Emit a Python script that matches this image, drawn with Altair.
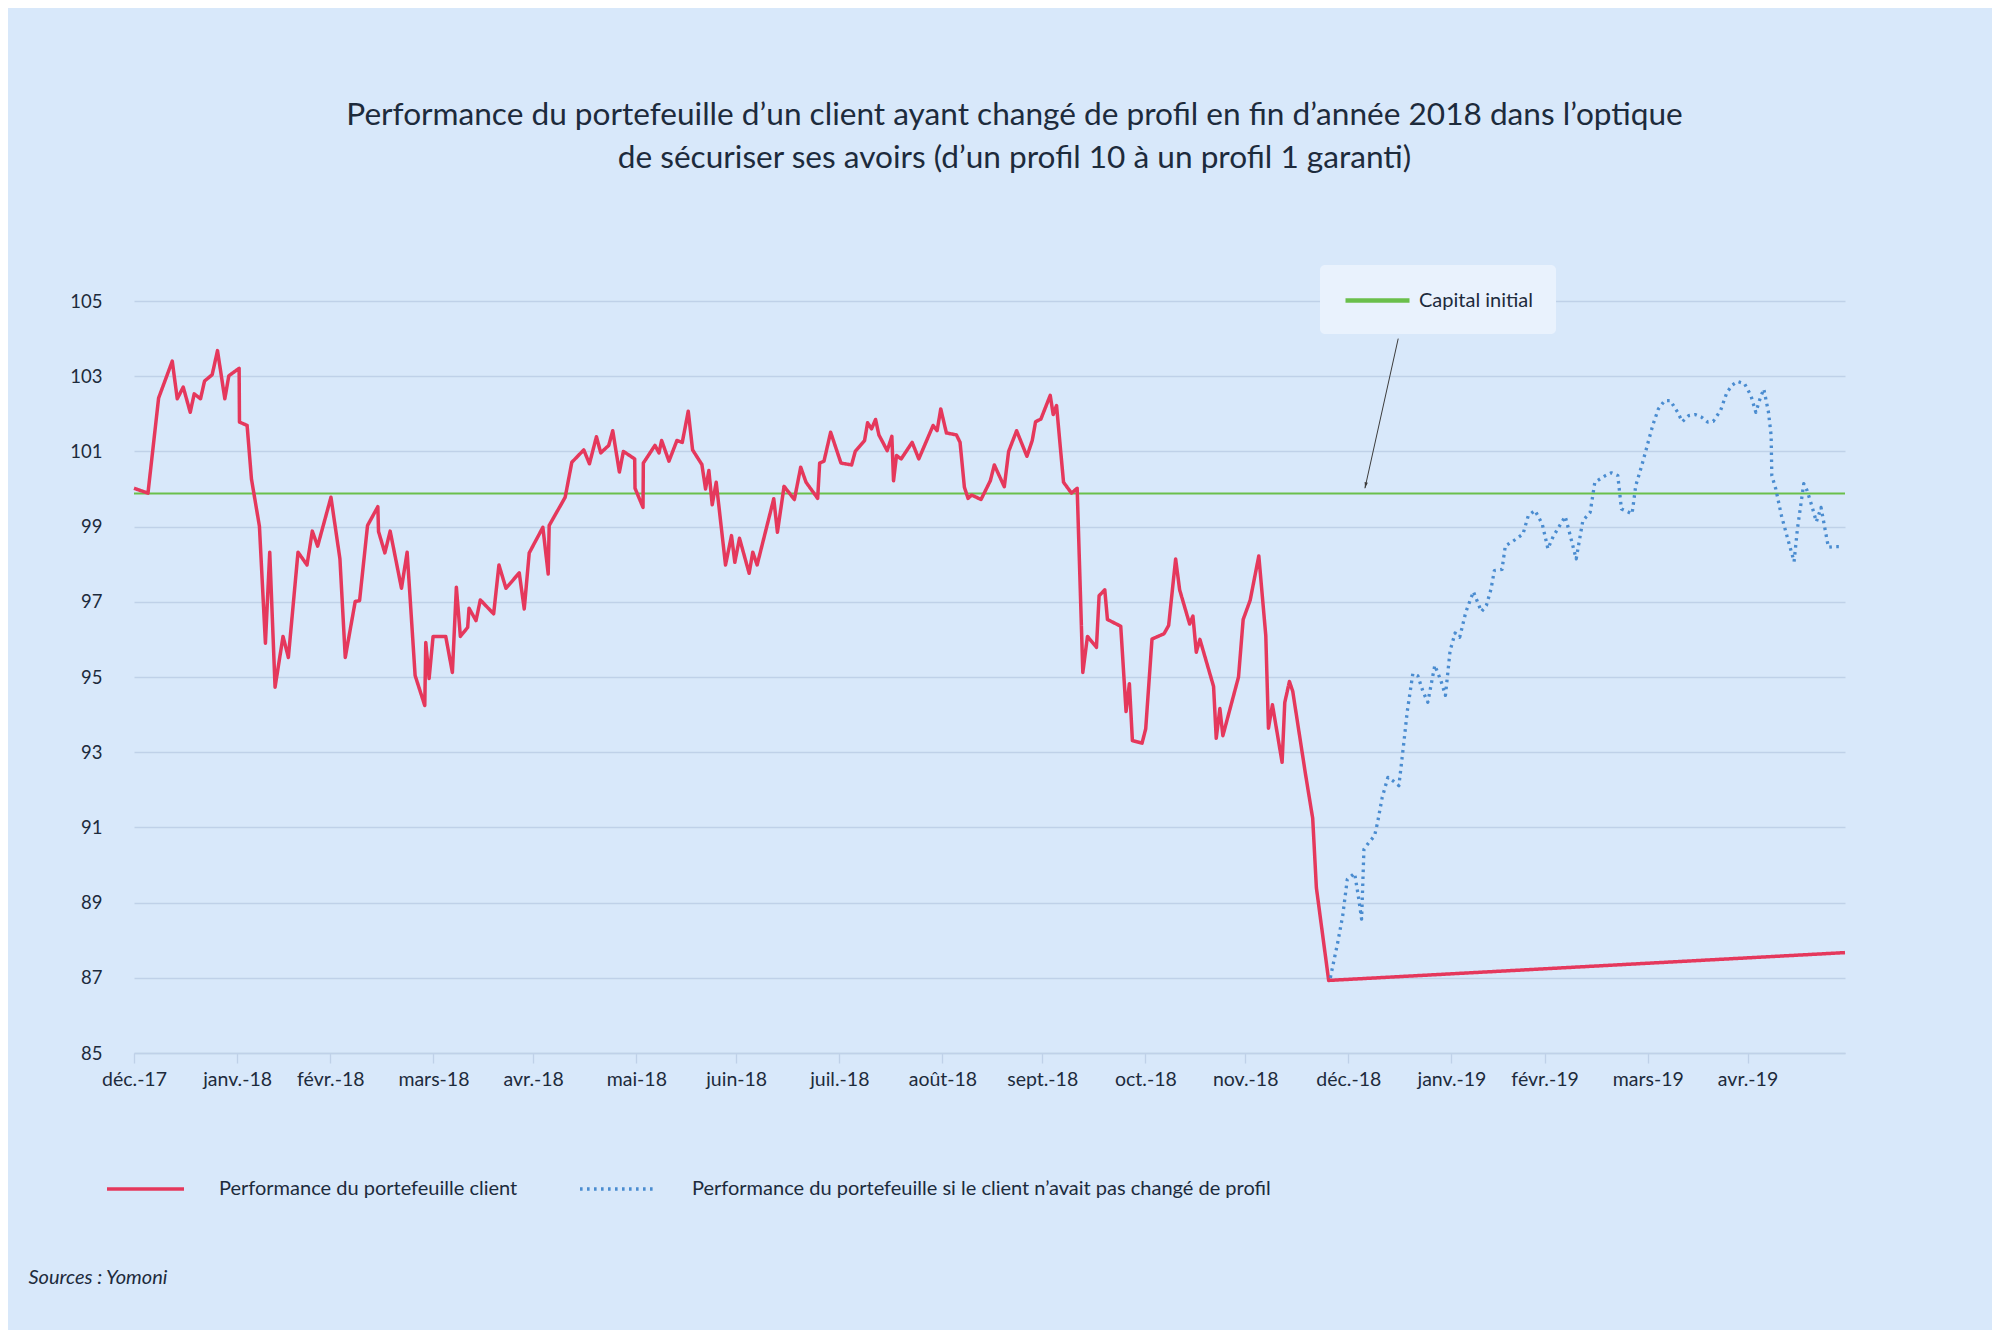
import altair as alt
import pandas as pd

# ---------------- texts ----------------
TITLE = [
    "Performance du portefeuille d’un client ayant changé de profil en fin d’année 2018 dans l’optique",
    "de sécuriser ses avoirs (d’un profil 10 à un profil 1 garanti)",
]
SERIES = [
    "Performance du portefeuille client",
    "Performance du portefeuille si le client n’avait pas changé de profil",
]
CAPITAL_LABEL = "Capital initial"
SOURCE = "Sources : Yomoni"

# ---------------- axes ----------------
BASE_DATE = "2017-12-31"
TICK_DATES = ["2017-12-31", "2018-01-31", "2018-02-28", "2018-03-31", "2018-04-30",
              "2018-05-31", "2018-06-30", "2018-07-31", "2018-08-31", "2018-09-30",
              "2018-10-31", "2018-11-30", "2018-12-31", "2019-01-31", "2019-02-28",
              "2019-03-31", "2019-04-30"]
TICK_LABELS = ["déc.-17", "janv.-18", "févr.-18", "mars-18", "avr.-18", "mai-18",
               "juin-18", "juil.-18", "août-18", "sept.-18", "oct.-18", "nov.-18",
               "déc.-18", "janv.-19", "févr.-19", "mars-19", "avr.-19"]
END_DAY = 514.3
Y_TICKS = [85, 87, 89, 91, 93, 95, 97, 99, 101, 103, 105]

CAPITAL = 99.88

# ---------------- series (days since 31/12/2017, value) ----------------
CLIENT_DAYS = [
    0.0, 4.2, 7.4, 11.5, 13.0, 14.8, 16.9, 18.1, 20.0, 21.2, 23.5, 25.1, 27.3, 28.5,
    31.6, 31.7, 34.0, 35.3, 37.7, 39.5, 40.8, 42.4, 44.8, 46.4, 49.3, 52.0, 53.6, 55.2,
    59.2, 61.9, 63.5, 66.5, 67.8, 70.2, 73.3, 73.5, 75.4, 77.0, 80.4, 82.1, 84.5, 87.4,
    87.7, 88.7, 89.9, 93.7, 95.7, 96.9, 98.1, 100.3, 100.7, 102.8, 104.1, 108.1, 109.7,
    111.8, 115.8, 117.3, 118.8, 122.9, 124.5, 124.8, 129.6, 131.6, 135.2, 136.9, 139.0,
    140.3, 142.7, 143.9, 145.9, 147.1, 150.5, 150.6, 153.0, 153.1, 156.6, 157.8, 158.6,
    160.8, 163.2, 164.8, 166.6, 167.9, 170.7, 171.8, 172.8, 173.8, 175.0, 177.8, 179.6,
    180.6, 182.0, 184.9, 186.0, 187.3, 192.3, 193.4, 195.4, 198.5, 200.4, 202.0, 205.5,
    206.1, 207.4, 209.4, 212.5, 215.7, 216.8, 219.6, 220.5, 221.7, 222.9, 223.9, 226.4,
    227.8, 228.3, 229.2, 230.6, 233.9, 235.9, 240.2, 241.4, 242.5, 244.2, 247.2, 248.3,
    249.6, 250.7, 251.8, 254.6, 257.4, 258.6, 261.6, 262.9, 265.3, 268.4, 270.0, 271.0,
    272.6, 275.4, 276.3, 277.3, 279.4, 281.8, 283.5, 285.2, 286.6, 289.3, 290.1, 291.8,
    292.6, 296.6, 298.2, 299.2, 300.1, 303.0, 304.1, 306.0, 309.6, 311.0, 313.1, 314.3,
    317.3, 318.3, 319.3, 320.4, 324.5, 325.3, 326.4, 327.3, 332.0, 333.4, 335.5, 338.1,
    340.2, 341.0, 342.2, 345.1, 345.9, 347.3, 348.3, 352.2, 354.3, 355.4, 359.1, 514.3,
]
CLIENT_VALUES = [
    100.02, 99.89, 102.42, 103.40, 102.40, 102.71, 102.04, 102.53, 102.40, 102.87, 103.04,
    103.68, 102.40, 103.01, 103.21, 101.78, 101.69, 100.27, 99.01, 95.90, 98.32, 94.73,
    96.08, 95.52, 98.32, 97.98, 98.88, 98.48, 99.78, 98.14, 95.52, 97.01, 97.03, 99.03,
    99.53, 98.87, 98.30, 98.88, 97.36, 98.32, 95.04, 94.24, 95.92, 94.96, 96.08, 96.08,
    95.12, 97.39, 96.08, 96.32, 96.83, 96.50, 97.05, 96.68, 97.98, 97.36, 97.77, 96.81,
    98.30, 98.98, 97.74, 99.03, 99.78, 100.71, 101.04, 100.67, 101.39, 100.96, 101.16,
    101.55, 100.45, 101.00, 100.80, 100.02, 99.51, 100.69, 101.16, 100.96, 101.29, 100.74,
    101.29, 101.24, 102.07, 101.04, 100.65, 100.00, 100.49, 99.58, 100.18, 97.98, 98.76,
    98.05, 98.69, 97.76, 98.32, 97.98, 99.74, 98.85, 100.07, 99.72, 100.58, 100.18, 99.75,
    100.69, 100.74, 101.51, 100.69, 100.64, 101.00, 101.29, 101.76, 101.60, 101.85, 101.44,
    101.02, 101.40, 100.22, 100.89, 100.80, 101.24, 100.80, 101.69, 101.55, 102.13, 101.49,
    101.44, 101.24, 100.05, 99.75, 99.84, 99.72, 100.22, 100.64, 100.06, 101.00, 101.55,
    100.87, 101.29, 101.79, 101.86, 102.49, 101.98, 102.22, 100.18, 99.89, 100.02, 95.12,
    96.08, 95.79, 97.16, 97.32, 96.53, 96.35, 94.08, 94.82, 93.31, 93.24, 93.62, 96.01,
    96.15, 96.37, 98.14, 97.32, 96.41, 96.62, 95.66, 96.00, 94.75, 93.37, 94.16, 93.44,
    95.00, 96.53, 97.04, 98.22, 96.10, 93.64, 94.26, 92.73, 94.32, 94.88, 94.62, 92.38,
    91.24, 89.40, 86.93, 87.67,
]
ALT_DAYS = [
    359.6, 361.8, 363.3, 364.7, 366.9, 368.0, 369.0, 369.7, 371.2, 372.9, 373.8, 375.2,
    376.9, 378.4, 380.2, 381.6, 382.7, 384.4, 385.9, 387.5, 388.9, 391.0, 392.8, 394.2,
    395.6, 397.1, 398.5, 400.3, 402.6, 405.0, 406.5, 407.9, 408.9, 411.2, 412.2, 414.3,
    417.5, 419.1, 421.1, 423.3, 425.0, 426.6, 430.2, 431.6, 433.5, 435.5, 437.7, 439.1,
    442.4, 444.1, 446.0, 447.1, 450.3, 451.4, 453.2, 454.6, 456.5, 458.2, 460.1, 461.8,
    464.0, 465.4, 467.3, 469.3, 471.2, 473.0, 474.7, 476.9, 478.8, 480.5, 482.0, 484.1,
    486.0, 487.5, 488.9, 489.9, 491.3, 492.1, 492.3, 493.5, 495.2, 497.1, 499.0, 500.0,
    501.9, 502.9, 504.3, 505.7, 507.1, 509.3, 511.5, 513.6,
]
ALT_VALUES = [
    87.00, 87.93, 88.64, 89.62, 89.78, 89.18, 88.56, 90.42, 90.60, 90.78, 91.13, 91.80,
    92.33, 92.24, 92.11, 93.18, 94.07, 95.09, 95.03, 94.60, 94.33, 95.31, 94.91, 94.51,
    95.70, 96.17, 96.06, 96.72, 97.27, 96.74, 96.90, 97.34, 97.83, 97.86, 98.49, 98.60,
    98.80, 99.29, 99.43, 99.07, 98.41, 98.74, 99.27, 98.80, 98.14, 99.16, 99.38, 100.18,
    100.36, 100.43, 100.36, 99.47, 99.34, 100.09, 100.62, 101.07, 101.69, 102.13, 102.35,
    102.35, 102.04, 101.79, 101.95, 101.98, 101.91, 101.78, 101.80, 102.09, 102.57,
    102.77, 102.86, 102.80, 102.49, 102.04, 102.44, 102.66, 102.04, 101.42, 100.36,
    100.00, 99.29, 98.67, 98.07, 98.94, 100.14, 99.96, 99.56, 99.13, 99.51, 98.45,
    98.47, 98.47,
]

# annotation arrow (data space): from the label box down to the capital line
ARROW_DAYS = [380.0, 370.0]
ARROW_VALUES = [104.0, 100.02]

# ---------------- style ----------------
FONT = "Lato"
BG = "#d8e8fa"
BOX = "#e9f2fd"
GRID = "#bfd1e8"
TEXT = "#1d2b3c"
RED = "#e5385c"
BLUE = "#4a8cd0"
GREEN = "#6abf4b"
ARROWC = "#3c3c3c"

# ---------------- data frames ----------------
base = pd.Timestamp(BASE_DATE)
tick_days = [int((pd.Timestamp(d) - base).days) for d in TICK_DATES]
label_expr = " : ".join(
    f"datum.value == {d} ? '{lab}'" for d, lab in zip(tick_days, TICK_LABELS)
) + " : ''"

lines = pd.concat([
    pd.DataFrame({"jour": CLIENT_DAYS, "valeur": CLIENT_VALUES, "serie": SERIES[0]}),
    pd.DataFrame({"jour": ALT_DAYS, "valeur": ALT_VALUES, "serie": SERIES[1]}),
], ignore_index=True)
lines["ordre"] = range(len(lines))

cap_df = pd.DataFrame({"valeur": [CAPITAL], "label": [CAPITAL_LABEL]})
arrow_df = pd.DataFrame({"x": [ARROW_DAYS[0]], "y": [ARROW_VALUES[0]],
                         "x2": [ARROW_DAYS[1]], "y2": [ARROW_VALUES[1]]})
head_df = pd.DataFrame({"x": [ARROW_DAYS[1] + 0.2], "y": [ARROW_VALUES[1] + 0.08]})

x_scale = alt.Scale(domain=[0, END_DAY], nice=False, zero=False)
y_scale = alt.Scale(domain=[85, 105], nice=False, zero=False)

x_axis = alt.Axis(
    values=tick_days, labelExpr=label_expr, grid=False,
    domain=True, domainColor=GRID, domainWidth=1.3,
    ticks=True, tickColor=GRID, tickSize=10, tickWidth=1.3,
    labelPadding=7, labelFont=FONT, labelFontSize=19.5, labelColor=TEXT,
    labelOverlap=False, labelFlush=False,
    title=SOURCE, titleFont=FONT, titleFontSize=20, titleFontStyle="italic",
    titleFontWeight="normal", titleColor=TEXT, titleAnchor="start",
    titleAlign="left", titleBaseline="middle", titleX=-106, titleY=224,
)
y_axis = alt.Axis(
    values=Y_TICKS, grid=True, gridColor=GRID, gridWidth=1.3,
    domain=False, ticks=False, labelPadding=32, labelFont=FONT,
    labelFontSize=18.5, labelColor=TEXT, title=None,
)

# wide, flat legend symbols: the symbol box stays small (row height), the line extends
series_legend = alt.Legend(
    orient="none", legendX=-29, legendY=876, direction="horizontal", title=None,
    symbolType="M-1,0L6.7,0", symbolSize=400, symbolStrokeWidth=3.5,
    labelOffset=90, columnPadding=55, labelLimit=2000,
    labelFont=FONT, labelFontSize=20, labelColor=TEXT,
)
cap_legend = alt.Legend(
    orient="none", legendX=1186, legendY=-36, title=None,
    fillColor=BOX, cornerRadius=5, padding=23,
    symbolType="M-1,0L5.4,0", symbolSize=400, symbolStrokeWidth=4.5,
    labelOffset=51, labelLimit=1000,
    labelFont=FONT, labelFontSize=20, labelColor=TEXT,
)

cap_rule = alt.Chart(cap_df).mark_rule(strokeWidth=2).encode(
    y=alt.Y("valeur:Q", scale=y_scale, axis=y_axis),
    stroke=alt.Stroke("label:N", scale=alt.Scale(domain=[CAPITAL_LABEL], range=[GREEN]),
                      legend=cap_legend),
)

series = alt.Chart(lines).mark_line(strokeJoin="round", strokeCap="butt").encode(
    x=alt.X("jour:Q", scale=x_scale, axis=x_axis),
    y=alt.Y("valeur:Q", scale=y_scale, axis=y_axis),
    color=alt.Color("serie:N", scale=alt.Scale(domain=SERIES, range=[RED, BLUE]),
                    legend=series_legend),
    strokeDash=alt.StrokeDash("serie:N", scale=alt.Scale(domain=SERIES, range=[[1, 0], [2.6, 4.4]]),
                              legend=series_legend),
    strokeWidth=alt.StrokeWidth("serie:N", scale=alt.Scale(domain=SERIES, range=[3.5, 3.3]),
                                legend=None),
    order="ordre:Q",
)

arrow = alt.Chart(arrow_df).mark_rule(color=ARROWC, strokeWidth=1).encode(
    x=alt.X("x:Q", scale=x_scale), y=alt.Y("y:Q", scale=y_scale),
    x2="x2:Q", y2="y2:Q",
)
head = alt.Chart(head_df).mark_point(
    shape="M-0.55,-1L0.55,-1L0,1Z", filled=True, size=36, angle=12,
    color=ARROWC, opacity=1, strokeWidth=0,
).encode(x=alt.X("x:Q", scale=x_scale), y=alt.Y("y:Q", scale=y_scale))

chart = alt.layer(cap_rule, series, arrow, head).properties(
    width=1711, height=752,
    autosize=alt.AutoSizeParams(type="none"),
    padding={"left": 126, "top": 293, "right": 147, "bottom": 277},
    title=alt.Title(TITLE, font=FONT, fontSize=31.6, fontWeight="normal", color=TEXT,
                    anchor="middle", frame="group", dx=25, offset=90, lineHeight=43),
).configure(background=BG).configure_view(strokeWidth=0)

chart.save("out.html", embed_options={"renderer": "svg", "actions": False})
